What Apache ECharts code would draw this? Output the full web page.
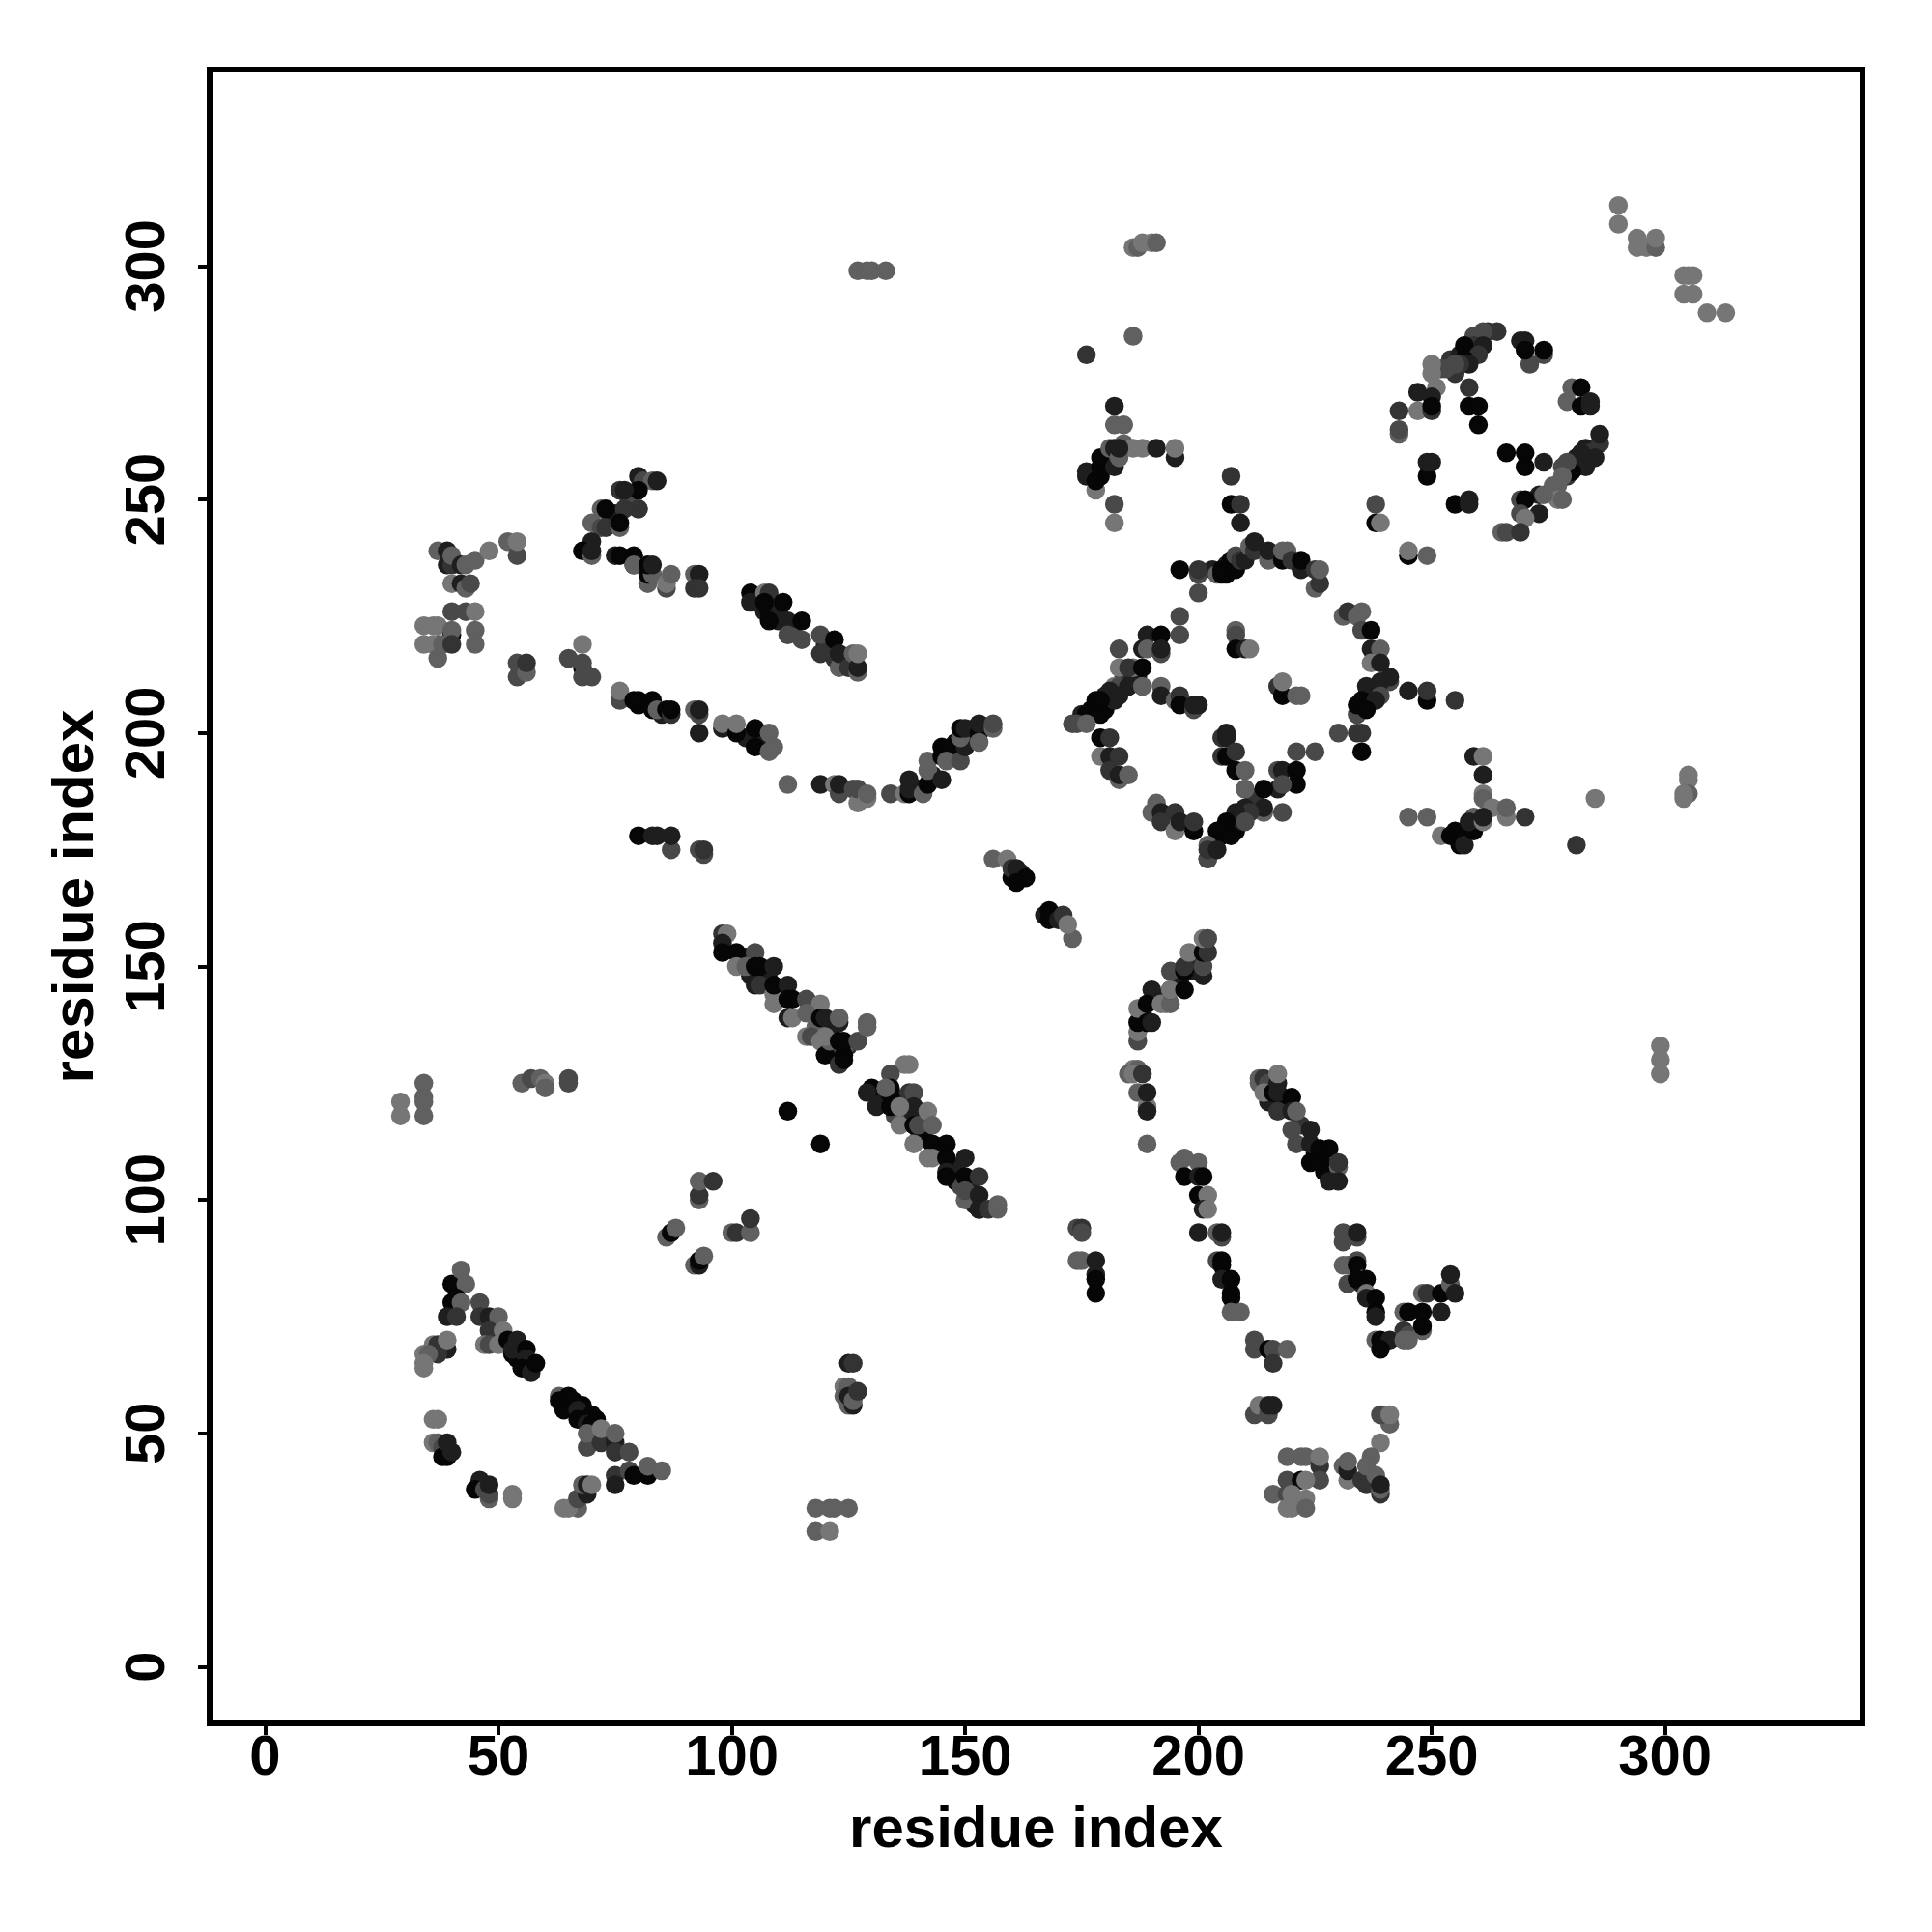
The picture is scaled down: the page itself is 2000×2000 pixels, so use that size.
<!DOCTYPE html>
<html><head><meta charset="utf-8">
<style>html,body{margin:0;padding:0;background:#fff}#c{width:2000px;height:2000px}</style>
<script src="https://cdn.jsdelivr.net/npm/echarts@6/dist/echarts.min.js"></script>
</head><body><div id="c"></div>
<script>
// each contact: [residue i, residue j, shade level]
const tickValues = [0,50,100,150,200,250,300];
const axisTitle = "residue index";
const shades = ['#060606','#1e1e1e','#333333','#494949','#606060','#767676'];

const denseFill = [[106,229,1],[107,226,1],[108,226,0],[110,226,1],[110,224,1],[113,222,3],[120,219,1],[121,218,2],[122,216,2],[124,216,4],
[104,148,1],[107,148,0],[108,147,0],[111,144,0],[103,152,1],[107,149,1],[121,136,1],[118,137,4],[122,133,1],[125,133,2],[122,131,1],
[132,122,1],[135,122,2],[137,121,1],[138,118,1],[141,117,1],[140,113,2],[144,111,0],[145,110,0],[148,107,1],[148,104,0],[151,103,1],[152,99,1],[149,103,3],[141,114,0],[137,118,1],[135,118,3],[133,121,1],
[254,280,2],[256,281,1],[258,282,1],[255,277,2],[252,278,3],[281,259,1],[279,255,2],[283,261,1],[280,258,1],[278,257,3],[276,253,4],
[180,205,0],[177,205,0],[184,212,2],[186,211,1],[187,212,1],[182,207,1],[180,208,1],[206,236,1],[203,235,1],[237,209,0],[238,209,1],[236,208,1],[205,178,0],[206,180,0],[209,183,1],[208,179,0],[212,186,2],[212,184,2],
[74,246,2],[75,247,1],[78,250,1],[78,249,3],[55,67,0],[54,66,0],[56,65,0],[66,57,0],[68,54,0],[69,54,1],[71,53,0],[72,50,2],[73,49,2],
[188,140,1],[191,143,1],[196,147,1],[199,151,2],[199,149,1],[215,121,1],[218,122,0],[222,116,2],[225,110,0],[226,109,0],[227,106,0],[229,106,1],
[140,188,1],[148,198,0],[151,199,1],[143,191,1],[152,201,1],[80,206,0],[85,204,1],[103,199,1],[106,199,1],[162,169,1],[162,170,1],[167,161,1],[169,161,1]];
const lowerTriangle = [[40,82,0],[42,85,4],[43,82,4],[40,78,0],[41,79,0],[42,78,4],[39,75,1],[41,75,2],[46,78,3],[46,75,2],[48,75,1],[50,75,4],[48,72,2],[51,72,5],[47,69,5],[48,69,3],[50,69,5],[53,67,0],[52,70,0],[54,70,1],[53,68,1],[56,68,0],[56,66,1],[55,64,0],[57,63,1],[58,65,0],
[39,68,1],[36,69,5],[37,69,2],[37,67,2],[34,67,5],[35,67,4],[34,65,5],[34,64,5],[39,70,5]];
const lowerCurve = [[36,53,5],[37,53,5],[36,48,5],[37,48,4],[38,47,3],[38,45,0],[39,45,0],[39,48,1],[40,46,1],
[46,40,1],[45,38,0],[48,36,4],[47,38,3],[48,37,3],[48,39,1],[53,37,5],[53,36,5]];
const lowerChain = [[63,58,4],[65,58,0],[63,57,0],[64,55,0],[68,56,0],[67,55,1],[70,54,0],[67,53,0],[69,52,1],[70,52,0],[69,47,3],[69,50,4],[72,48,2],[72,51,5],[75,48,1],[75,46,2],[75,50,4],[78,46,3],[75,41,2],[75,39,1],[78,42,3],[82,41,0],[79,41,0],[82,43,4],[85,42,4],
[67,36,2],[67,34,4],[64,34,5],[65,34,5],[67,36,3],[69,37,1],[68,39,4],[69,39,1],[70,39,5]];
const lowerSmall = [[93,100,4],[93,101,2],[93,104,4],[96,104,2],[86,92,4],[87,93,0],[88,94,4],[100,93,4],[101,93,2],[104,93,4],[104,96,2],[92,86,4],[93,86,1],[93,87,0],[94,88,4],
[125,65,1],[126,65,2],[124,60,5],[125,60,4],[124,58,4],[125,56,4],[125,58,1],[126,56,1],[126,57,4],[127,59,2],
[118,34,4],[121,34,4],[122,34,4],[125,34,4],[118,29,4],[121,29,5],[112,119,0],[119,112,0]];
const diagonalA = [[98,157,2],[99,157,5],[98,155,1],[98,153,0],[101,153,0],[105,153,3],[101,150,5],[103,150,4],[105,150,0],[106,150,0],[109,150,1],[105,146,1],[106,146,2],[109,144,5],[109,142,5],[109,146,0],[112,146,1],[112,143,0],[113,143,0],[116,143,3],[119,142,5],
[112,139,1],[113,139,5],[116,140,4],[119,139,0],[120,139,1],[123,138,1],[123,139,4],[116,135,5],[117,135,3],[119,134,5],[120,131,0],[121,134,4],[120,135,5],[123,129,2],[124,132,4],[124,131,0],[124,130,0],[123,134,0],[124,134,0],[127,134,3],[129,138,4],[129,137,4]];
const diagonalB = [[137,129,5],[138,129,5],[134,127,3],[134,124,0],[134,122,0],[130,124,0],[129,123,1],[131,120,1],[133,124,4],[134,120,0],[138,123,2],[139,123,3],[139,120,1],[136,120,5],[136,116,5],[139,116,0],[140,116,3],[142,119,5],[143,116,4],
[139,112,5],[143,112,0],[146,112,0],[142,109,5],[143,109,5],[146,109,0],[150,109,1],[146,106,1],[146,105,0],[150,105,0],[153,105,2],[150,100,4],[150,102,3],[153,101,1],[153,98,0],[153,98,1],[155,98,2],[157,98,4],[157,99,4]];
const curveUp = [[187,134,3],[187,136,5],[187,138,0],[187,141,5],[189,138,0],[190,138,1],[190,145,1],[189,142,0],[192,142,5],[193,142,5],[194,142,4],[194,145,1],[194,145,5],[194,149,3],[197,145,0],[197,149,0],[197,150,2],[201,148,1],[201,150,3],[198,153,5],[201,153,0],[202,153,2],[201,156,5],[202,156,3],
[186,128,5],[187,128,4],[185,127,4],[186,127,5],[188,127,2],[187,123,4],[189,120,5],[189,123,1],[189,119,1],[189,112,4]];
const curveMid = [[196,108,4],[197,109,4],[200,108,4],[197,105,0],[200,105,1],[201,105,0],[200,101,0],[202,101,5],[201,98,1],[202,98,5],[200,93,1],[204,93,4],[205,92,3],[205,93,1],[204,87,3],[205,87,0],[205,86,0],[205,83,1],[207,83,0],[207,80,0],[207,79,0],[207,76,4],[209,76,4],
[212,70,3],[212,68,3],[215,68,0],[216,68,3],[219,68,4],[216,65,2],[212,54,3],[213,56,5],[215,54,3],[215,56,1],[216,56,1]];
const strandRight = [[213,126,4],[213,125,4],[214,126,2],[215,125,3],[214,123,5],[216,123,0],[217,125,1],[217,127,5],[217,123,1],[220,122,0],[217,119,2],[220,119,1],[221,119,4],[220,115,3],[224,115,1],[221,112,3],[224,112,1],[224,108,0],[226,111,0],[228,111,0],[226,108,0],[228,107,0],[230,107,4],[230,108,2],[228,104,1],[230,104,1]];
const strandLow = [[231,93,3],[231,91,3],[234,92,3],[234,93,1],[231,86,4],[232,86,4],[234,87,3],[234,86,0],[232,82,3],[235,83,4],[235,82,1],[236,83,0],[234,83,0],[236,80,5],[236,79,1],[238,79,0],[238,76,0],[238,75,1],
[238,70,4],[239,70,0],[241,70,1],[239,68,0],[244,72,2],[245,71,3],[244,70,4],[245,70,4],[244,76,4],[245,76,0],[248,72,4],[248,73,0],[248,76,0],[252,76,1],[248,80,4],[249,80,2],[252,80,0],[254,82,4],[254,84,1],[255,80,1]];
const bottomRight = [[219,45,4],[222,45,4],[223,45,4],[226,43,2],[226,45,5],[226,40,3],[219,40,3],[222,40,0],[223,40,5],[216,37,4],[219,37,3],[220,37,5],[223,36,5],[219,34,5],[220,34,5],[223,34,4],
[231,43,4],[232,40,5],[232,42,1],[232,44,4],[241,52,4],[239,54,3],[241,54,5],[239,48,5],[237,45,4],[235,40,2],[236,43,4],[236,39,2],[239,37,2],[238,41,4],[239,38,4],[239,39,1]];
const midDiagonal = [[156,173,4],[159,173,5],[160,169,0],[160,171,2],[161,171,1],[161,168,0],[163,169,0],[168,162,0],[168,160,0],[170,160,1],[171,161,2],[173,156,4],[172,159,5],
[174,94,3],[175,94,2],[175,93,3],[174,87,4],[175,87,4],[178,87,1],[178,84,1],[178,83,0],[178,80,0]];
const ringTop = [[204,234,4],[205,234,0],[206,234,0],[205,235,0],[207,237,0],[208,235,0],[208,238,3],[209,237,2],[210,237,1],[211,240,4],[212,239,2],[212,241,1],[215,237,4],[215,239,1],[218,237,0],[218,239,4],[219,239,4],[220,237,2],[222,235,1],[222,237,0],[225,231,4],[226,232,2],[225,235,2],[226,235,4],
[196,235,0],[200,234,3],[200,235,2],[200,230,3],[196,225,3],[196,221,3]];
const ringRight = [[231,225,4],[232,226,2],[234,225,4],[235,226,4],[235,222,3],[237,222,0],[237,218,1],[239,218,4],[237,215,5],[239,215,1],[241,211,3],[241,212,1],[239,211,1],[236,210,1],[239,208,3],[235,207,0],[238,207,1],[234,204,3],[234,206,0],[236,205,0],
[230,200,3],[234,200,2],[235,200,2],[235,196,0],[221,196,3],[225,196,3],[245,209,1],[249,207,0],[249,209,2],[255,207,2]];
const ringInner = [[208,222,4],[208,221,3],[208,218,0],[210,218,1],[211,218,5],[217,210,2],[218,208,0],[218,211,5],[221,208,4],[222,208,4]];
const ringLeft = [[189,221,1],[192,221,0],[188,218,1],[189,218,4],[192,217,3],[192,218,1],[183,218,3],[183,214,5],[186,214,5],[185,214,2],[188,214,0],[182,210,5],[183,210,3],[185,210,1],[188,210,4],[181,209,1],[183,208,1],[178,207,0],[179,207,0],[179,204,0],[175,204,1],[176,204,0],[173,202,3],[174,202,3],[176,202,4],
[192,210,4],[192,208,1],[195,207,4],[196,208,2],[196,206,0],[199,205,3],[199,206,1],[200,206,1],
[179,199,0],[181,199,2],[179,195,5],[181,195,1],[183,195,2],[181,192,2],[183,190,4],[183,191,1],[185,191,4],[191,185,4],[190,183,4],[192,183,1],[192,181,2],[195,179,5],[195,183,2],[196,181,1],[199,179,0],[199,181,2]];
const ringMiddle = [[205,199,2],[206,200,1],[206,199,1],[205,195,2],[206,195,0],[208,196,2],[208,192,0],[210,192,4],[217,192,3],[218,192,1],[221,192,0],[221,189,0],[217,188,1],[218,189,3],[210,188,3],[210,188,4],[214,188,0],[210,184,1],[214,183,4],[214,184,1],[218,183,3],[211,183,2],[208,183,1],
[208,181,1],[210,181,3],[206,181,0],[204,179,0],[205,179,0],[207,178,0],[202,176,4],[202,173,4],[202,173,3],[202,175,2],[204,175,1]];
const rightCross = [[259,195,1],[261,195,5],[261,191,1],[261,187,5],[261,186,4],[263,184,5],[266,182,5],[266,184,4],[270,182,2],[245,182,4],[249,182,4],[252,178,5],[254,178,0],[255,179,0],[257,179,0],[256,176,0],[257,176,1],[259,179,0],[259,182,4],[258,181,1],[261,181,5],[261,182,1],
[285,186,5],[281,176,2],[305,191,5],[305,190,5],[305,187,4],[304,187,5],[304,186,5],[299,133,5],[299,130,5],[299,127,5]];
const upperDiagonal = [[290,313,5],[290,309,5],[294,306,5],[294,304,5],[296,304,5],[298,304,4],[298,306,5],[304,298,5],[305,298,5],[306,298,5],[304,294,5],[306,294,5],[309,290,5],[313,290,5]];
const circleArc = [[264,286,2],[262,286,2],[261,286,3],[259,285,3],[259,283,2],[261,283,1],[257,283,0],[260,281,2],[257,280,0],[258,279,1],[256,279,2],[255,279,3],[253,278,3],[250,279,5],[250,277,5],[251,274,5],[250,272,1],[247,273,1],[247,269,5],[250,269,2],[250,270,0],[243,269,2],[243,264,4],[243,265,3],
[258,274,2],[258,270,0],[260,270,0],[260,266,0]];
const circleRight = [[269,284,1],[270,284,1],[271,279,3],[270,282,0],[274,281,3],[274,282,0],[279,271,4],[280,274,4],[282,274,0],[282,270,0],[284,271,1],[284,270,1],
[286,262,2],[286,264,1],[284,260,2],[285,259,1],[282,260,1],[283,257,1],[281,257,1],[280,256,0],[279,258,3],[278,255,4],[277,253,4],[277,250,5],[278,250,4],
[273,251,1],[274,251,4],[269,250,3],[270,250,0],[273,247,1],[269,247,3],[270,246,5],[266,260,0],[270,257,0],[270,260,0],[274,258,1],
[249,255,0],[249,258,1],[250,258,1],[255,249,0],[258,249,1],[258,250,1],[238,249,3],[238,245,0],[239,245,5],[265,243,4],[266,243,3],[269,243,2],[245,238,0],[245,239,5],[249,238,4]];
const upperLeft = [[37,239,4],[39,239,1],[39,236,1],[40,236,2],[40,238,4],[42,236,1],[43,236,4],[45,237,4],[48,239,5],[52,241,4],[54,238,3],[54,241,5],[40,232,5],[42,232,1],[43,231,4],[44,232,3],
[40,226,3],[43,226,3],[45,226,5],[45,222,4],[45,219,4],[34,223,5],[36,223,5],[37,223,5],[40,221,0],[40,222,4],[34,219,5],[37,219,3],[36,219,5],[38,219,4],[40,219,2],[37,216,4],
[54,215,3],[54,212,3],[56,213,4],[56,215,2],[68,219,5],[65,216,3],[68,214,0],[68,215,3],[68,212,3],[70,212,3]];
const upperChain = [[80,255,1],[81,254,3],[83,254,4],[84,254,1],[80,252,0],[76,252,2],[77,252,1],[80,248,4],[80,248,2],[72,248,4],[73,248,0],[77,248,2],[70,245,4],[72,244,3],[73,244,2],[76,244,4],[76,245,0],[70,241,1],[68,239,0],[70,238,4],[70,239,1],
[75,238,1],[76,238,0],[79,238,0],[79,236,0],[79,236,4],[82,232,4],[82,234,0],[83,234,4],[82,236,0],[83,236,1],[86,231,3],[86,232,5],[87,234,4],[92,234,4],[93,234,1],[92,231,2],[93,231,2]];
const upperSegment = [[104,230,0],[104,228,1],[107,230,5],[108,230,2],[107,228,0],[111,228,0],[108,224,0],[112,224,1],[115,224,0],[112,221,3],[115,220,3],[119,221,3],[119,217,2],[122,220,0],[123,214,4],[123,217,1],[125,214,2],[126,217,4],[127,213,4],[127,214,1],[127,217,5]];
const lowerBand = [[76,207,3],[76,209,5],[79,207,0],[80,207,0],[83,207,0],[83,205,0],[84,205,4],[86,205,0],[87,204,2],[87,205,0],[92,205,4],[93,204,3],[93,205,1],[93,200,1],
[98,201,1],[98,202,5],[101,200,0],[101,202,5],[105,201,0],[105,197,0],[108,200,4],[108,196,4],[109,197,4]];
const uCurve = [[112,189,4],[119,189,1],[122,189,5],[123,187,3],[123,189,1],[126,188,3],[127,185,5],[127,188,3],[129,186,5],[129,187,4],
[134,187,3],[137,187,5],[138,187,0],[138,188,1],[138,190,1],[141,187,4],[142,189,0],[142,192,4],[142,194,4],[145,190,1],[145,195,0],[145,197,0],[147,197,0],[146,194,4],[149,194,3],[150,197,1],[149,199,4],[149,201,0],[150,201,1],[153,200,0],[153,202,1],[153,198,4],[156,201,4],[156,202,3],
[80,178,0],[83,178,1],[84,178,1],[87,175,3],[87,178,1],[94,174,3],[93,175,3],[94,175,2]];
const topCluster = [[182,270,1],[182,266,4],[184,266,4],[184,262,4],[186,261,5],[188,261,5],[191,261,1],[195,259,1],[195,261,5],[176,255,1],[176,256,1],[178,252,5],[178,254,0],[179,255,0],[179,257,0],[179,259,0],[181,261,4],[182,257,1],[182,261,1],[183,259,4],[183,261,1],
[182,249,3],[182,245,5],[207,255,2],[207,249,0],[209,249,2],[209,245,1]];
const isolated = [[127,299,4],[129,299,4],[130,299,4],[133,299,4],[186,304,5],[187,304,4],[188,305,5],[190,305,5],[191,305,4],[186,285,4],[176,281,2],
[29,121,5],[29,118,5],[34,125,4],[34,122,4],[34,121,4],[34,118,4],[55,125,4],[57,126,3],[59,126,4],[60,125,5],[60,124,4],[65,126,3],[65,125,3]];

const contacts = [].concat(denseFill,lowerTriangle,lowerCurve,lowerChain,lowerSmall,diagonalA,diagonalB,curveUp,curveMid,strandRight,strandLow,bottomRight,midDiagonal,ringTop,ringRight,ringInner,ringLeft,ringMiddle,rightCross,upperDiagonal,circleArc,circleRight,upperLeft,upperChain,upperSegment,lowerBand,uCurve,topCluster,isolated);

const font = '"Liberation Sans", Helvetica, Arial, sans-serif';
const tickStyle = {color:'#000',fontFamily:font,fontWeight:'bold',fontSize:58};
const titleStyle = {color:'#000',fontFamily:font,fontWeight:'bold',fontSize:60};
function axis(extra){
  return Object.assign({
    type:'value',
    name:axisTitle, nameLocation:'middle',
    nameTextStyle:titleStyle,
    splitLine:{show:false},
    axisLine:{show:false,onZero:false},
    axisTick:{show:true,length:12,inside:false,customValues:tickValues,lineStyle:{color:'#000',width:4}},
  },extra);
}
const chart = echarts.init(document.getElementById('c'),null,{renderer:'canvas',width:2000,height:2000});
chart.setOption({
  animation:false,
  backgroundColor:'#fff',
  grid:{left:217,right:72,top:72,bottom:216,show:true,borderColor:'#000',borderWidth:6,backgroundColor:'#fff'},
  xAxis:axis({min:-11.9,max:342.3,nameGap:81,axisLabel:Object.assign({},tickStyle,{margin:8,customValues:tickValues})}),
  yAxis:axis({min:-12.1,max:342.1,nameGap:108,axisLabel:Object.assign({},tickStyle,{rotate:90,margin:63,customValues:tickValues,align:'center',verticalAlign:'middle'})}),
  series:[{
    type:'scatter',
    symbol:'circle',
    symbolSize:19.5,
    data:contacts,
    itemStyle:{opacity:1,color:p=>shades[p.value[2]]},
    emphasis:{disabled:true}
  }]
});
</script></body></html>
